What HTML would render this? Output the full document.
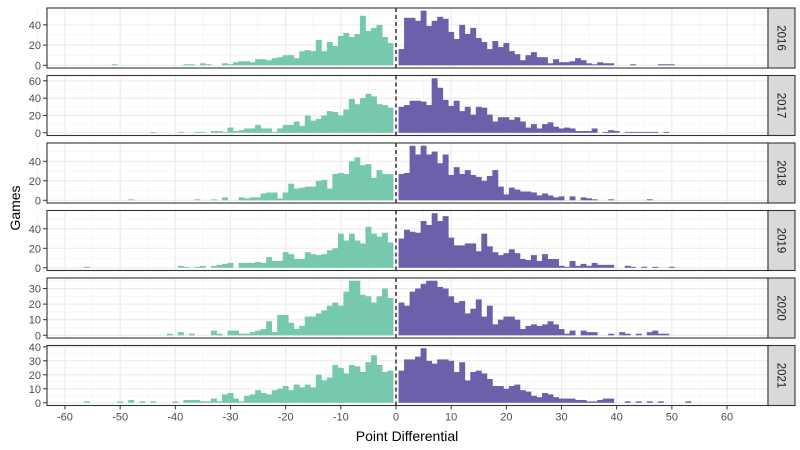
<!DOCTYPE html>
<html><head><meta charset="utf-8"><style>
body{margin:0;background:#fff}
svg{display:block;font-family:"Liberation Sans",sans-serif}
</style></head><body>
<svg id="c" width="800" height="450" viewBox="0 0 800 450" xmlns="http://www.w3.org/2000/svg"></svg>
<script>
const years=["2016","2017","2018","2019","2020","2021"];
// losses: counts for -1,-2,-3,...
const neg2016=[22,28,40,37,34,49,31,28,32,29,19,23,14,25,14,15,14,7,10,10,8,7,5,6,6,3,4,4,3,1,2,0,0,1,2,0,1,1,0,0,0,0,0,0,0,0,0,0,0,0,1];
const pos2016=[16,47,47,44,54,39,44,48,46,33,26,40,31,37,27,23,16,24,18,22,14,11,5,10,13,8,8,2,6,3,3,4,7,5,2,1,3,2,2,0,0,0,1,0,0,0,0,1,1,1];
const neg2017=[29,32,33,42,45,40,33,39,27,20,24,25,20,16,14,20,8,13,9,9,5,1,5,5,9,5,5,3,2,6,1,2,2,0,1,1,0,0,1,0,0,0,0,1];
const pos2017=[30,32,37,37,36,32,63,52,38,31,37,25,30,21,30,29,21,13,18,18,15,18,13,6,10,5,10,12,7,5,6,5,2,2,2,5,0,1,3,2,0,1,1,1,1,1,1,0,1];
const neg2018=[27,27,31,23,37,36,44,40,27,28,27,12,21,20,14,14,13,12,17,8,2,8,8,7,3,3,2,3,0,0,3,0,1,0,0,1,0,0,0,0,0,0,0,0,0,0,0,1];
const pos2018=[27,28,56,47,56,47,50,38,47,26,34,27,31,26,24,20,25,31,14,6,13,11,9,9,8,5,7,5,3,4,0,4,0,3,2,1,0,0,1,0,0,0,0,0,0,1];
const neg2019=[26,36,32,35,42,25,28,35,28,35,20,18,14,13,14,16,9,9,14,16,7,7,11,5,6,5,5,5,0,5,4,3,2,0,2,1,0,1,2,0,0,0,0,0,0,0,0,0,0,0,0,0,0,0,0,1];
const pos2019=[30,39,37,36,48,44,56,48,53,31,23,23,25,25,17,35,22,16,13,15,19,15,9,8,13,7,14,9,9,2,1,7,2,4,2,5,3,3,3,0,0,2,1,0,1,0,1,0,0,1];
const neg2020=[24,30,25,21,25,26,35,35,28,19,21,19,16,14,12,12,6,4,8,13,13,2,9,4,3,2,1,1,3,3,0,1,3,0,0,0,1,0,2,0,1];
const pos2020=[21,19,28,30,33,35,35,31,30,25,21,22,14,17,23,12,19,7,10,12,12,10,4,6,7,6,7,9,7,4,1,3,0,3,2,2,0,0,1,0,2,1,0,1,0,2,3,1,1];
const neg2021=[23,22,27,34,29,22,26,27,21,25,27,18,16,20,11,13,11,13,9,12,10,9,6,7,9,6,5,1,3,7,6,1,3,1,1,2,2,2,0,1,0,0,0,1,0,1,0,2,0,1,0,0,0,0,0,1];
const pos2021=[23,31,31,33,39,30,28,31,31,30,22,29,16,22,23,21,17,12,12,10,12,13,9,8,5,4,7,6,4,3,3,3,2,2,1,1,2,3,3,0,0,1,0,1,0,1,0,1,0,0,0,0,1];
const yTicks2016=[0,20,40],yTicks2017=[0,20,40,60],yTicks2018=[0,20,40],yTicks2019=[0,20,40],yTicks2020=[0,10,20,30],yTicks2021=[0,10,20,30,40];
const xTicks=[-60,-50,-40,-30,-20,-10,0,10,20,30,40,50,60];

const negs=[neg2016,neg2017,neg2018,neg2019,neg2020,neg2021];
const poss=[pos2016,pos2017,pos2018,pos2019,pos2020,pos2021];
const yts=[yTicks2016,yTicks2017,yTicks2018,yTicks2019,yTicks2020,yTicks2021];
const svg=document.getElementById('c');
const NS="http://www.w3.org/2000/svg";
function mk(t,a,p){const e=document.createElementNS(NS,t);for(const k in a)e.setAttribute(k,a[k]);(p||svg).appendChild(e);return e;}
const L=47,R=768;
const x=v=>396+5.517*v;
const panelTop=i=>8+67.5*i, PH=60;
years.forEach((yr,i)=>{
  const top=panelTop(i),bot=top+PH;
  const g=mk('g',{});
  
  
  const neg=negs[i],pos=poss[i];
  const M=Math.max(...neg,...pos);
  const lo=-0.05*M,hi=1.05*M;
  const y=v=>bot-(v-lo)/(hi-lo)*PH;
  mk('rect',{x:L,y:top,width:R-L,height:PH,fill:'#fff'},g);
  const yt=yts[i];const step=yt[1]-yt[0];
  for(let v=yt[0]+step/2;v<hi;v+=step){if(v>lo)mk('line',{x1:L,x2:R,y1:y(v),y2:y(v),stroke:'#f2f2f2','stroke-width':0.6},g);}
  for(let v=-65;v<=65;v+=10){mk('line',{x1:x(v),x2:x(v),y1:top,y2:bot,stroke:'#f2f2f2','stroke-width':0.6},g);}
  xTicks.forEach(v=>mk('line',{x1:x(v),x2:x(v),y1:top,y2:bot,stroke:'#ebebeb','stroke-width':1.1},g));
  yt.forEach(v=>{
    mk('line',{x1:L,x2:R,y1:y(v),y2:y(v),stroke:'#ebebeb','stroke-width':1.1},g);
    mk('line',{x1:L-4,x2:L,y1:y(v),y2:y(v),stroke:'#333','stroke-width':1},g);
    const t=mk('text',{x:L-6,y:y(v)+4,'text-anchor':'end','font-size':11,fill:'#4d4d4d'},g);
    
    
    t.textContent=v;
  });
  neg.forEach((c,k)=>{if(!c)return;const v=-(k+1);
    const r=mk('rect',{x:x(v-0.5)-0.2,y:y(c),width:5.917,height:y(0)-y(c),fill:'#76c8ae'},g);
    
    });
  pos.forEach((c,k)=>{if(!c)return;const v=k+1;
    const r=mk('rect',{x:x(v-0.5)-0.2,y:y(c),width:5.917,height:y(0)-y(c),fill:'#6c60aa'},g);
    
    });
  const d=mk('line',{x1:x(0),x2:x(0),y1:top,y2:bot,stroke:'#000','stroke-width':1.2,'stroke-dasharray':'4,3'},g);
  
  
  mk('rect',{x:L,y:top,width:R-L,height:PH,fill:'none',stroke:'#333','stroke-width':1.1},g);
  const s=mk('rect',{x:R,y:top,width:27,height:PH,fill:'#d9d9d9',stroke:'#333','stroke-width':1.1},g);
  
  
  const st=mk('text',{x:0,y:0,'font-size':11.5,fill:'#1a1a1a','text-anchor':'middle',transform:`translate(${R+9.5},${top+PH/2}) rotate(90)`},g);
  
  
  st.textContent=yr;
});
const bot=panelTop(5)+PH;
xTicks.forEach(v=>{
  mk('line',{x1:x(v),x2:x(v),y1:bot,y2:bot+4,stroke:'#333','stroke-width':1});
  const t=mk('text',{x:x(v),y:bot+15,'text-anchor':'middle','font-size':11,fill:'#4d4d4d'});
  
  
  t.textContent=v;
});
const xt=mk('text',{x:407,y:441,'text-anchor':'middle','font-size':14,fill:'#000'});


xt.textContent='Point Differential';
const yt=mk('text',{x:0,y:0,'text-anchor':'middle','font-size':14,fill:'#000',transform:'translate(20,208) rotate(-90)'});


yt.textContent='Games';
</script>
</body></html>
